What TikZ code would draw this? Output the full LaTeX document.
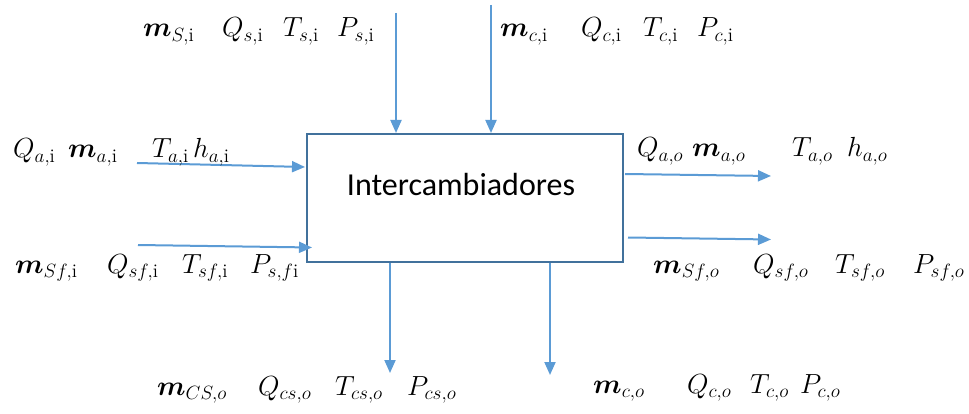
\documentclass[tikz,border=0pt]{standalone}
\usepackage{amsmath}
\usepackage{bm}
\usepackage{graphicx}
\usepackage{fontspec}
\newfontfamily\boxfont{Carlito}
\usetikzlibrary{arrows.meta}
\definecolor{arrowblue}{HTML}{5B9BD5}
\definecolor{boxblue}{HTML}{41719C}
\newcommand{\lbm}[1]{\scalebox{1.6}{$#1$}}
\tikzset{
  flow/.style={draw=arrowblue, line width=2pt, -{Triangle[length=13pt,width=11pt]}},
  lbl/.style={anchor=base west, inner sep=0pt, font=\LARGE},
  procbox/.style={draw=boxblue, line width=2pt, minimum width=316pt, minimum height=128pt, inner sep=0pt}
}
\begin{document}
\begin{tikzpicture}[x=1pt,y=-1pt]
\useasboundingbox (0,0) rectangle (969,414);
% box
\node[procbox] (box) at (465,198) {};
\node[anchor=base, inner sep=0pt, font=\boxfont\fontsize{32}{36}\selectfont] (boxtxt) at (461,196) {Intercambiadores};
% arrow end points
\coordinate (t1) at (396,13);
\coordinate (t2) at (491,5);
\coordinate (l1s) at (137,163);
\coordinate (l1e) at (305,167);
\coordinate (l2s) at (138,245);
\coordinate (l2e) at (312,247.5);
\coordinate (r1s) at (625,174);
\coordinate (r1e) at (771,176);
\coordinate (r2s) at (628,237.5);
\coordinate (r2e) at (771,239.5);
\coordinate (b1) at (390,373);
\coordinate (b2) at (550,375);
% arrows
\draw[flow] (t1) -- (t1 |- box.north);
\draw[flow] (t2) -- (t2 |- box.north);
\draw[flow] (l1s) -- (l1e);
\draw[flow] (l2s) -- (l2e);
\draw[flow] (r1s) -- (r1e);
\draw[flow] (r2s) -- (r2e);
\draw[flow] (b1 |- box.south) -- (b1);
\draw[flow] (b2 |- box.south) -- (b2);
% top left labels
\node[lbl] (msi) at (143,37) {\lbm{\bm{m}_{S,\mathrm{i}}}};
\node[lbl] (qsi) at (222,37) {\lbm{Q_{s,\mathrm{i}}}};
\node[lbl] (tsi) at (283,37) {\lbm{T_{s,\mathrm{i}}}};
\node[lbl] (psi) at (337,37) {\lbm{P_{s,\mathrm{i}}}};
% top right labels
\node[lbl] (mci) at (500,37) {\lbm{\bm{m}_{c,\mathrm{i}}}};
\node[lbl] (qci) at (581,37) {\lbm{Q_{c,\mathrm{i}}}};
\node[lbl] (tci) at (643,37) {\lbm{T_{c,\mathrm{i}}}};
\node[lbl] (pci) at (697,37) {\lbm{P_{c,\mathrm{i}}}};
% left 1 labels
\node[lbl] (qai) at (13,158) {\lbm{Q_{a,\mathrm{i}}}};
\node[lbl] (mai) at (68,158) {\lbm{\bm{m}_{a,\mathrm{i}}}};
\node[lbl] (tai) at (152,158) {\lbm{T_{a,\mathrm{i}}}};
\node[lbl] (hai) at (193,158) {\lbm{h_{a,\mathrm{i}}}};
% left 2 labels
\node[lbl] (msfi) at (15,273) {\lbm{\bm{m}_{Sf,\mathrm{i}}}};
\node[lbl] (qsfi) at (107,273) {\lbm{Q_{sf,\mathrm{i}}}};
\node[lbl] (tsfi) at (182,273) {\lbm{T_{sf,\mathrm{i}}}};
\node[lbl] (psfi) at (250,273) {\lbm{P_{s,f\mathrm{i}}}};
% right 1 labels
\node[lbl] (qao) at (637,157) {\lbm{Q_{a,o}}};
\node[lbl] (mao) at (692,157) {\lbm{\bm{m}_{a,o}}};
\node[lbl] (tao) at (792,157) {\lbm{T_{a,o}}};
\node[lbl] (hao) at (847,157) {\lbm{h_{a,o}}};
% right 2 labels
\node[lbl] (msfo) at (653,273) {\lbm{\bm{m}_{Sf,o}}};
\node[lbl] (qsfo) at (753,273) {\lbm{Q_{sf,o}}};
\node[lbl] (tsfo) at (835,273) {\lbm{T_{sf,o}}};
\node[lbl] (psfo) at (913,273) {\lbm{P_{sf,o}}};
% bottom 1 labels
\node[lbl] (mcso) at (157,395) {\lbm{\bm{m}_{CS,o}}};
\node[lbl] (qcso) at (258,395) {\lbm{Q_{cs,o}}};
\node[lbl] (tcso) at (335,395) {\lbm{T_{cs,o}}};
\node[lbl] (pcso) at (407,395) {\lbm{P_{cs,o}}};
% bottom 2 labels
\node[lbl] (mco) at (593,393) {\lbm{\bm{m}_{c,o}}};
\node[lbl] (qco) at (687,393) {\lbm{Q_{c,o}}};
\node[lbl] (tco) at (750,393) {\lbm{T_{c,o}}};
\node[lbl] (pco) at (800,393) {\lbm{P_{c,o}}};
\end{tikzpicture}
\end{document}
